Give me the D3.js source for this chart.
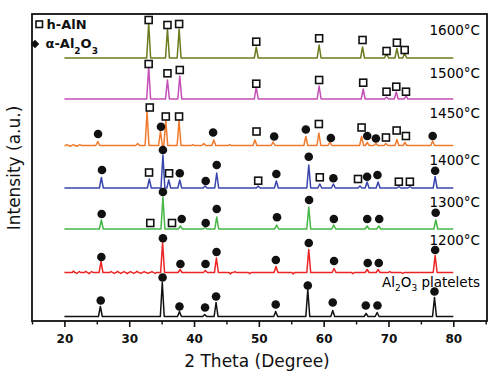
<!DOCTYPE html>
<html><head><meta charset="utf-8">
<script src="https://cdn.jsdelivr.net/npm/d3@7"></script>
<style>
body{margin:0;background:#fff}
svg{display:block}
text{font-family:"DejaVu Sans",sans-serif;fill:#111}
</style>
</head><body>
<svg id="c" width="500" height="381"></svg>
<script>
// ---- data (2θ in degrees, intensity in a.u.) ----
const xTicks = [20, 30, 40, 50, 60, 70, 80];
const xMinorTicks = [15, 25, 35, 45, 55, 65, 75, 85];
const seriesNames = ["Al2O3 platelets", "1200°C", "1300°C", "1400°C", "1450°C", "1500°C", "1600°C"];
const seriesOffsets = [4.5, 48.5, 92, 133, 175.5, 222, 263];
const labelLift = [29.5, 27.5, 22.5, 23, 27.5, 21, 23];

// peaks: [2θ, height above baseline]
const peaksPlate = [[25.55,10],[35.1,34],[37.75,5],[41.65,2],[43.4,14],[52.6,5],[57.55,27],[61.4,6],[66.55,3],[68.25,4],[77.1,19]];
const peaks1200 = [[25.65,11],[35.15,30],[37.85,3],[41.75,2],[43.45,14.5],[52.65,6],[57.7,23],[61.6,4],[66.7,3],[68.4,3],[77.2,17]];
const peaks1300 = [[25.7,9],[35.2,32],[37.9,3],[41.7,1.5],[43.5,12],[52.75,4],[57.7,22],[61.55,4],[66.7,3],[68.5,3],[77.3,9]];
const peaks1400 = [[25.7,10.5],[33.1,9],[35.2,33],[36.1,8],[37.8,8],[41.7,2],[43.5,15],[49.9,2],[52.7,7],[57.7,23],[59.4,4],[61.5,4],[65.6,2],[66.7,6],[68.4,6],[71.6,1.5],[73.3,1.5],[77.2,11.5]];
const peaks1450 = [[25.15,4],[31.3,2],[32.75,34],[34.82,14],[35.64,25],[37.69,25],[41.5,2],[43.05,5.5],[49.4,5.5],[52.2,3.5],[57.25,9],[59.26,12.5],[60.96,3.5],[65.85,9],[66.72,3],[68.06,2],[69.61,2],[71.3,6],[72.54,3],[76.82,4.5]];
const peaks1500 = [[33.0,32],[35.9,19],[37.8,23],[49.6,12],[59.3,13],[66.1,10],[69.7,2],[71.2,7],[72.7,3]];
const peaks1600 = [[33.0,35],[35.9,29],[37.7,29],[49.6,11],[59.3,13],[66.0,11],[69.7,5],[71.3,9.5],[72.5,5]];

// small baseline ripples: [2θ, height]
const ripples1200 = [[21.4,1.5],[21.9,-1],[22.3,1],[23.3,1.2],[23.8,-1.2],[24.2,1],[27.2,1],[27.7,-1],[28.2,1.2],[28.7,-1],[29.2,1],[29.7,-1.2],[30.2,1],[30.7,-1],[31.2,1.2],[31.8,-1],[32.3,1],[32.9,-1],[33.5,1],[34.0,-1],[45.6,-1.5],[46.3,1],[48.6,-1.2],[55.3,-1.5],[64.5,-1.2],[70.2,1],[72.2,-1]];
const ripples1450 = [[20.4,1],[20.9,-0.8],[21.4,1],[21.9,-0.8],[22.4,1],[39.8,1],[45.5,1]];

// h-AlN markers: [2θ, marker height above baseline]
const nitPlate = [];
const nit1200 = [];
const nit1300 = [[33.25,6],[36.6,6]];
const nit1400 = [[33.06,15.5],[36.15,14.7],[49.9,7.3],[59.4,10.7],[65.3,9],[71.6,6.3],[73.3,6.3]];
const nit1450 = [[33.17,38],[35.64,29],[37.69,29],[49.64,14],[59.26,21.5],[65.85,18],[69.61,8],[71.26,15],[72.69,9.5]];
const nit1500 = [[33.0,35],[35.9,25.7],[37.8,29],[49.6,15.3],[59.3,19],[66.1,16.3],[69.7,7.3],[71.2,12.3],[72.7,7.3]];
const nit1600 = [[33.0,38],[35.9,33],[37.7,34],[49.6,16.3],[59.3,19.7],[66.0,18],[69.7,7],[71.3,15.3],[72.5,8]];

// α-Al2O3 markers: [2θ, marker height above baseline]
const aluPlate = [[25.6,16],[35.15,39],[37.75,10],[41.7,9],[43.4,20],[52.6,12],[57.55,31],[61.4,14],[66.5,11],[68.3,11],[77.1,25]];
const alu1200 = [[25.7,15.5],[35.2,34.2],[37.9,8.5],[41.77,8.5],[43.47,20.5],[52.62,12.5],[57.7,29.5],[61.6,11.5],[66.8,9.5],[68.5,9.5],[77.2,22.5]];
const alu1300 = [[25.75,15],[35.2,37],[38.1,10],[41.8,6],[43.5,20],[52.8,11.7],[57.75,29],[61.57,10],[66.72,10],[68.57,10],[77.28,16.3]];
const alu1400 = [[25.8,18],[35.2,38],[37.8,14.7],[41.8,7],[43.5,23],[52.7,14],[57.7,31.3],[61.5,9.7],[66.7,11.3],[68.3,13],[77.2,17.3]];
const alu1450 = [[25.19,11.5],[34.9,18.7],[42.94,13],[52.36,9],[57.25,16],[61.11,7.5],[66.72,9.5],[68.06,7],[76.82,9.5]];
const alu1500 = [];
const alu1600 = [];

const allPeaks = [peaksPlate, peaks1200, peaks1300, peaks1400, peaks1450, peaks1500, peaks1600];
const allRipples = [[], ripples1200, [], [], ripples1450, [], []];
const allNit = [nitPlate, nit1200, nit1300, nit1400, nit1450, nit1500, nit1600];
const allAlu = [aluPlate, alu1200, alu1300, alu1400, alu1450, alu1500, alu1600];
const colors = ["#111111", "#ec2424", "#46b646", "#3a46ae", "#f07a2c", "#c44fb6", "#6a7c1f"];

// ---- drawing ----
const svg = d3.select("#c");
const x = d3.scaleLinear().domain([15, 85.2]).range([32, 487]);
const y = d3.scaleLinear().domain([0, 307]).range([321, 14]);

function profile(peaks, ripples) {
  const w = 0.3, rw = 0.2;
  const xs = new Set([20, 80]);
  peaks.forEach(([p]) => { xs.add(p - w); xs.add(p); xs.add(p + w); });
  ripples.forEach(([p]) => { xs.add(p - rw); xs.add(p); xs.add(p + rw); });
  const pts = [...xs].filter(v => v >= 20 && v <= 80).sort((a, b) => a - b);
  return pts.map(t => {
    let v = 0;
    peaks.forEach(([p, h]) => { const d = 1 - Math.abs(t - p) / w; if (d > 0) v = Math.max(v, h * d); });
    ripples.forEach(([p, h]) => { const d = 1 - Math.abs(t - p) / rw; if (d > 0) v += h * d; });
    return [t, v];
  });
}

const gLines = svg.append("g");
allPeaks.forEach((pk, i) => {
  const off = seriesOffsets[i];
  const line = d3.line().x(d => x(d[0])).y(d => y(off + d[1]));
  gLines.append("path")
    .attr("d", line(profile(pk, allRipples[i])))
    .attr("fill", "none")
    .attr("stroke", colors[i])
    .attr("stroke-width", 1.5)
    .attr("stroke-linejoin", "round");
});

const gMarks = svg.append("g");
const blob = d3.symbol().type(d3.symbolCircle).size(58);
allAlu.forEach((arr, i) => {
  const off = seriesOffsets[i];
  gMarks.selectAll(null).data(arr).enter().append("path")
    .attr("d", blob)
    .attr("transform", d => `translate(${x(d[0])},${y(off + d[1])})`)
    .attr("fill", "#111");
});
allNit.forEach((arr, i) => {
  const off = seriesOffsets[i];
  gMarks.selectAll(null).data(arr).enter().append("rect")
    .attr("x", d => x(d[0]) - 3.5)
    .attr("y", d => y(off + d[1]) - 3.5)
    .attr("width", 7).attr("height", 7)
    .attr("fill", "#fff").attr("stroke", "#111").attr("stroke-width", 1.6);
});

// series labels
const gLab = svg.append("g").attr("font-size", 13.5);
seriesNames.forEach((name, i) => {
  const t = gLab.append("text")
    .attr("x", x(85.2) - 7)
    .attr("y", y(seriesOffsets[i] + labelLift[i]))
    .attr("text-anchor", "end")
    .style("fill", "#000");
  if (name.startsWith("Al2O3")) {
    t.append("tspan").text("Al");
    t.append("tspan").attr("dy", 4).attr("font-size", 9).text("2");
    t.append("tspan").attr("dy", -4).text("O");
    t.append("tspan").attr("dy", 4).attr("font-size", 9).text("3");
    t.append("tspan").attr("dy", -4).text(" platelets");
  } else {
    t.text(name);
  }
});

// frame
svg.append("rect").attr("x", 32).attr("y", 14).attr("width", 455).attr("height", 307)
  .attr("fill", "none").attr("stroke", "#111").attr("stroke-width", 1.8);

// x axis
const ax = svg.append("g").attr("transform", "translate(0,321)")
  .call(d3.axisBottom(x).tickValues(xTicks).tickSize(6).tickPadding(7).tickFormat(d3.format("d")));
ax.select(".domain").remove();
ax.selectAll("line").attr("stroke", "#111").attr("stroke-width", 1.6);
ax.selectAll("text").attr("font-size", 12).attr("font-weight", "bold")
  .attr("font-family", "DejaVu Sans, sans-serif").attr("fill", "#111");
const axm = svg.append("g").attr("transform", "translate(0,321)")
  .call(d3.axisBottom(x).tickValues(xMinorTicks).tickSize(3.5).tickFormat(""));
axm.select(".domain").remove();
axm.selectAll("line").attr("stroke", "#111").attr("stroke-width", 1.4);

// axis titles
svg.append("text").attr("x", 257).attr("y", 367).attr("text-anchor", "middle")
  .attr("font-size", 17).text("2 Theta (Degree)");
svg.append("text").attr("transform", "translate(20,168) rotate(-90)").attr("text-anchor", "middle")
  .attr("font-size", 17).text("Intensity (a.u.)");

// legend
const lg = svg.append("g");
lg.append("rect").attr("x", 36).attr("y", 21).attr("width", 6.5).attr("height", 6.5)
  .attr("fill", "#fff").attr("stroke", "#111").attr("stroke-width", 1.6);
lg.append("text").attr("x", 46.5).attr("y", 28.5).attr("font-size", 13).attr("font-weight", "bold").text("h-AlN");
lg.append("path").attr("d", d3.symbol().type(d3.symbolSquare).size(36))
  .attr("transform", "translate(35,44) rotate(45)").attr("fill", "#111");
const lt = lg.append("text").attr("x", 45.5).attr("y", 48).attr("font-size", 13).attr("font-weight", "bold");
lt.append("tspan").text("α-Al");
lt.append("tspan").attr("dy", 6).attr("font-size", 9).text("2");
lt.append("tspan").attr("dy", -6).text("O");
lt.append("tspan").attr("dy", 6).attr("font-size", 9).text("3");
</script>
</body></html>
